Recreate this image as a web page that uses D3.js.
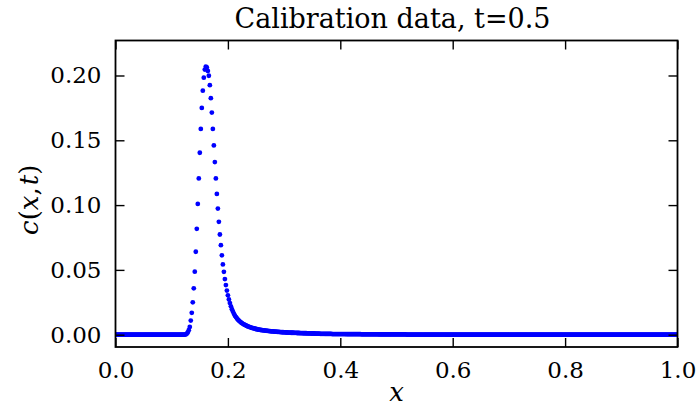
<!DOCTYPE html>
<html>
<head>
<meta charset="utf-8">
<script src="https://cdn.jsdelivr.net/npm/d3@7"></script>
<style>
  html, body { margin: 0; padding: 0; background: #fff; }
  svg { display: block; }
  text { fill: #000; }
</style>
</head>
<body>
<svg id="chart" width="697" height="407"></svg>
<script>
// ---- data ----
const titleText = "Calibration data, t=0.5";
const xTicks = [0.0, 0.2, 0.4, 0.6, 0.8, 1.0];
const yTicks = [0.00, 0.05, 0.10, 0.15, 0.20];
const xDomain = [0, 1];
const yDomain = [-0.0095, 0.227];
const nPoints = 561;
// c(x,t) at each sample x = i/(nPoints-1)
const cValues = [
0,0,0,0,0,0,0,0,0,0,
0,0,0,0,0,0,0,0,0,0,
0,0,0,0,0,0,0,0,0,0,
0,0,0,0,0,0,0,0,0,0,
0,0,0,0,0,0,0,0,0,0,
0,0,0,0,0,0,0,0,0,0,
0,0,0,0,0,0,0,0,0,0,
0.0002,0.0008,0.0017,0.0035,0.006,0.0109,0.0169,0.025,0.0358,0.0486,
0.064,0.0817,0.1009,0.1206,0.1404,0.1588,0.175,0.1883,0.1983,0.2046,
0.2069,0.2062,0.2035,0.1998,0.1925,0.1825,0.1714,0.1588,0.146,0.1332,
0.1206,0.1086,0.0973,0.0871,0.0773,0.0691,0.0612,0.0542,0.0485,0.0429,
0.0383,0.034,0.0304,0.0272,0.0244,0.0219,0.0197,0.0178,0.0161,0.0146,
0.0136,0.0125,0.0116,0.0108,0.0101,0.0095,0.0089,0.0084,0.0079,0.0075,
0.0071,0.0067,0.0064,0.0061,0.0058,0.0055,0.0052,0.0050,0.0048,0.0046,
0.0044,0.0042,0.0040,0.0039,0.0037,0.0036,0.0035,0.0034,0.0033,0.0032,
0.0031,0.0030,0.0029,0.0028,0.0027,0.0026,0.0025,0.0025,0.0024,0.0023,
0.0023,0.0022,0.0021,0.0021,0.0020,0.0020,0.0019,0.0019,0.0018,0.0018,
0.0017,0.0017,0.0016,0.0016,0.0016,0.0015,0.0015,0.0015,0.0014,0.0014,
0.0014,0.0013,0.0013,0.0013,0.0012,0.0012,0.0012,0.0011,0.0011,0.0011,
0.0011,0.0010,0.0010,0.0010,0.0010,0.0009,0.0009,0.0009,0.0009,0.0008,
0.0008,0.0008,0.0008,0.0008,0.0007,0.0007,0.0007,0.0007,0.0007,0.0006,
0.0006,0.0006,0.0006,0.0006,0.0006,0.0006,0.0005,0.0005,0.0005,0.0005,
0.0005,0.0005,0.0005,0.0005,0.0005,0.0005,0.0005,0.0005,0.0005,0.0005,
0.0004,0.0004,0.0004,0.0004,0.0004,0.0004,0.0004,0.0004,0.0004,0.0004,
0.0004,0.0004,0.0004,0.0004,0.0004,0.0003,0.0003,0.0003,0.0003,0.0003,
0.0003,0.0003,0.0003,0.0003,0.0003,0.0003,0.0003,0.0003,0.0003,0.0003,
0.0003,0.0003,0.0003,0.0002,0.0002,0.0002,0.0002,0.0002,0.0002,0.0002,
0.0002,0.0002,0.0002,0.0002,0.0002,0.0002,0.0002,0.0002,0.0002,0.0002,
0.0002,0.0002,0.0002,0.0002,0.0002,0.0002,0.0002,0.0002,0.0002,0.0002,
0.0001,0.0001,0.0001,0.0001,0.0001,0.0001,0.0001,0.0001,0.0001,0.0001,
0.0001,0.0001,0.0001,0.0001,0.0001,0.0001,0.0001,0.0001,0.0001,0.0001,
0.0001,0.0001,0.0001,0.0001,0.0001,0.0001,0.0001,0.0001,0.0001,0.0001,
0.0001,0.0001,0.0001,0.0001,0.0001,0.0001,0.0001,0.0001,0.0001,0.0001,
0,0,0,0,0,0,0,0,0,0,
0,0,0,0,0,0,0,0,0,0,
0,0,0,0,0,0,0,0,0,0,
0,0,0,0,0,0,0,0,0,0,
0,0,0,0,0,0,0,0,0,0,
0,0,0,0,0,0,0,0,0,0,
0,0,0,0,0,0,0,0,0,0,
0,0,0,0,0,0,0,0,0,0,
0,0,0,0,0,0,0,0,0,0,
0,0,0,0,0,0,0,0,0,0,
0,0,0,0,0,0,0,0,0,0,
0,0,0,0,0,0,0,0,0,0,
0,0,0,0,0,0,0,0,0,0,
0,0,0,0,0,0,0,0,0,0,
0,0,0,0,0,0,0,0,0,0,
0,0,0,0,0,0,0,0,0,0,
0,0,0,0,0,0,0,0,0,0,
0,0,0,0,0,0,0,0,0,0,
0,0,0,0,0,0,0,0,0,0,
0,0,0,0,0,0,0,0,0,0,
0,0,0,0,0,0,0,0,0,0,
0,0,0,0,0,0,0,0,0,0,
0,0,0,0,0,0,0,0,0,0,
0
];
const xValues = d3.range(nPoints).map(i => i / (nPoints - 1));
const points = xValues.map((x, i) => ({ x: x, c: cValues[i] }));

// ---- layout ----
const FONT = "'DejaVu Serif', serif";
const mLeft = 115.5, mRight = 677.5, mTop = 40.5, mBottom = 347;
const svg = d3.select("#chart");

const xScale = d3.scaleLinear().domain(xDomain).range([mLeft, mRight]);
const yScale = d3.scaleLinear().domain(yDomain).range([mBottom, mTop]);

svg.append("defs").append("clipPath").attr("id", "plotclip")
  .append("rect").attr("x", mLeft).attr("y", mTop)
  .attr("width", mRight - mLeft).attr("height", mBottom - mTop);

// points
svg.append("g").attr("clip-path", "url(#plotclip)")
  .selectAll("circle").data(points).enter().append("circle")
  .attr("cx", d => xScale(d.x))
  .attr("cy", d => yScale(d.c))
  .attr("r", 2.4)
  .attr("fill", "#0000ff");

const tickLen = 9;
const fontSize = 23;

// axes (ticks inward on all sides)
const axBottom = d3.axisBottom(xScale).tickValues(xTicks).tickSizeInner(-tickLen).tickSizeOuter(0)
  .tickPadding(tickLen + 6).tickFormat(d3.format(".1f"));
const axTop = d3.axisTop(xScale).tickValues(xTicks).tickSizeInner(-tickLen).tickSizeOuter(0).tickFormat("");
const axLeft = d3.axisLeft(yScale).tickValues(yTicks).tickSizeInner(-tickLen).tickSizeOuter(0)
  .tickPadding(tickLen + 5).tickFormat(d3.format(".2f"));
const axRight = d3.axisRight(yScale).tickValues(yTicks).tickSizeInner(-tickLen).tickSizeOuter(0).tickFormat("");

function style(g) {
  g.select(".domain").remove();
  g.selectAll(".tick line").attr("stroke", "#000").attr("stroke-width", 1.4);
  g.selectAll(".tick text").style("font-family", FONT)
    .attr("font-size", fontSize).attr("fill", "#000");
}
svg.append("g").attr("transform", `translate(0,${mBottom})`).call(axBottom).call(style);
svg.append("g").attr("transform", `translate(0,${mTop})`).call(axTop).call(style);
svg.append("g").attr("transform", `translate(${mLeft},0)`).call(axLeft).call(style);
svg.append("g").attr("transform", `translate(${mRight},0)`).call(axRight).call(style);

// frame
svg.append("rect").attr("x", mLeft).attr("y", mTop)
  .attr("width", mRight - mLeft).attr("height", mBottom - mTop)
  .attr("fill", "none").attr("stroke", "#000").attr("stroke-width", 1.8);

// title
svg.append("text").attr("x", (mLeft + mRight) / 2 - 4).attr("y", 28)
  .attr("text-anchor", "middle").attr("font-size", 27)
  .style("font-family", FONT).text(titleText);

// x label
svg.append("text").attr("x", (mLeft + mRight) / 2).attr("y", 401)
  .attr("text-anchor", "middle").attr("font-size", 26)
  .style("font-family", FONT).attr("font-style", "italic").text("x");

// y label c(x,t)
const yl = svg.append("text")
  .attr("transform", `translate(38,${(mTop + mBottom) / 2 + 6}) rotate(-90)`)
  .attr("text-anchor", "middle").attr("font-size", 26).style("font-family", FONT);
yl.append("tspan").attr("font-style", "italic").text("c");
yl.append("tspan").text("(");
yl.append("tspan").attr("font-style", "italic").text("x");
yl.append("tspan").text(",");
yl.append("tspan").attr("font-style", "italic").attr("dx", 2).text("t");
yl.append("tspan").text(")");
</script>
</body>
</html>
